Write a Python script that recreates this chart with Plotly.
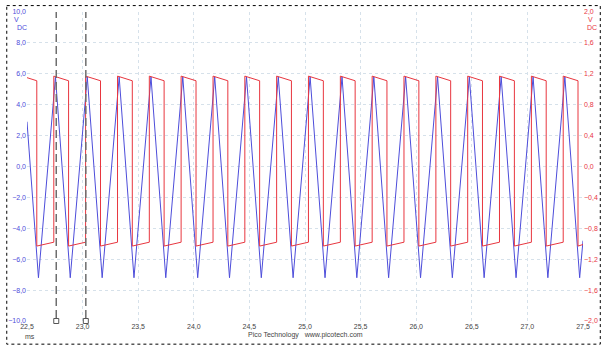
import plotly.graph_objects as go

# ---- data ----
peak_t = [22.756, 23.042, 23.329, 23.615, 23.901, 24.188, 24.474, 24.760, 25.046,
          25.333, 25.619, 25.905, 26.192, 26.478, 26.764, 27.051, 27.337]
trough_t = [22.603, 22.889, 23.176, 23.462, 23.748, 24.035, 24.321, 24.607, 24.893,
            25.180, 25.466, 25.752, 26.039, 26.325, 26.611, 26.898, 27.184, 27.470]
peak_v = [5.8, 5.8, 5.8, 5.8, 5.8, 5.8, 5.8, 5.8, 5.8, 5.8, 5.8, 5.8, 5.8, 5.8, 5.8, 5.8, 5.8]
trough_v = [-7.2, -7.2, -7.2, -7.2, -7.2, -7.2, -7.2, -7.2, -7.2, -7.2, -7.2, -7.2,
            -7.2, -7.2, -7.2, -7.2, -7.2, -7.2]
blue_start = (22.5, 2.9)
blue_end = (27.5, -4.8)

red_fall_t = [22.588, 22.874, 23.161, 23.447, 23.733, 24.020, 24.306, 24.592, 24.878,
              25.165, 25.451, 25.737, 26.024, 26.310, 26.596, 26.883, 27.169, 27.455]
red_rise_t = [22.741, 23.027, 23.314, 23.600, 23.886, 24.173, 24.459, 24.745, 25.031,
              25.318, 25.604, 25.890, 26.177, 26.463, 26.749, 27.036, 27.322]
red_high_start, red_high_end = 1.17, 1.11
red_low_start, red_low_end = -1.03, -0.98
red_start = (22.5, 1.15)
red_end = (27.5, -1.01)

cursor_t = [22.763, 23.029]

x_ticks = [22.5, 23.0, 23.5, 24.0, 24.5, 25.0, 25.5, 26.0, 26.5, 27.0, 27.5]
yl_ticks = [-10, -8, -6, -4, -2, 0, 2, 4, 6, 8, 10]
yr_ticks = [-2.0, -1.6, -1.2, -0.8, -0.4, 0.0, 0.4, 0.8, 1.2, 1.6, 2.0]

# ---- build series ----
bx, by = [blue_start[0]], [blue_start[1]]
for i in range(len(trough_t)):
    bx.append(trough_t[i]); by.append(trough_v[i])
    if i < len(peak_t):
        bx.append(peak_t[i]); by.append(peak_v[i])
bx.append(blue_end[0]); by.append(blue_end[1])

rx, ry = [red_start[0]], [red_start[1]]
for i in range(len(red_fall_t)):
    rx += [red_fall_t[i], red_fall_t[i]]
    ry += [red_high_end, red_low_start]
    if i < len(red_rise_t):
        rx += [red_rise_t[i], red_rise_t[i]]
        ry += [red_low_end, red_high_start]
rx.append(red_end[0]); ry.append(red_end[1])

BLUE = "#4d4dda"
RED = "#e8363f"
GRID = "#d6e1ea"
W, H = 606, 346
L, R, T, B = 22, 585, 8, 321.5
PW, PH = R - L, B - T

def px(x):
    return (x - L) / PW

def py(y):
    return 1 - (y - T) / PH

fig = go.Figure()
fig.add_trace(go.Scatter(x=rx, y=ry, mode="lines", yaxis="y2",
                         line=dict(color=RED, width=1), hoverinfo="skip"))
fig.add_trace(go.Scatter(x=bx, y=by, mode="lines",
                         line=dict(color=BLUE, width=1), hoverinfo="skip"))
fig.add_trace(go.Scatter(x=cursor_t, y=[-10] * len(cursor_t), mode="markers",
                         marker=dict(symbol="square", size=5, color="white",
                                     line=dict(color="#555555", width=1)),
                         cliponaxis=False, hoverinfo="skip"))

shapes = []
for c in cursor_t:
    shapes.append(dict(type="line", xref="x", yref="y", x0=c, x1=c, y0=-9.8, y1=10,
                       line=dict(color="#6e6e6e", width=1.5, dash="8px,4px"),
                       layer="above"))
shapes.append(dict(type="rect", xref="paper", yref="paper",
                   x0=px(1.5), x1=px(602.5), y0=py(1.5), y1=py(345),
                   line=dict(color="#000000", width=1, dash="dot")))

FONT = "Liberation Sans, Arial"

def ann(text, x, y, color, xanchor="center"):
    return dict(text=text, x=px(x), y=py(y), xref="paper", yref="paper",
                showarrow=False, xanchor=xanchor, yanchor="middle",
                font=dict(family=FONT, size=7, color=color))

annotations = [
    ann("Pico Technology   www.picotech.com", 304, 336, "#444444"),
    ann("ms", 25, 337, "#444444"),
    ann("V", 11, 16, BLUE),
    ann("DC", 16.5, 24, BLUE),
    ann("V", 588, 16, RED, "left"),
    ann("DC", 587.5, 24, RED, "left"),
]

fig.update_layout(
    width=W, height=H, autosize=False,
    margin=dict(l=L, r=W - R, t=T, b=H - B, pad=0),
    paper_bgcolor="white", plot_bgcolor="white",
    showlegend=False, separators=",.",
    shapes=shapes, annotations=annotations,
    xaxis=dict(range=[22.5, 27.5], tickvals=x_ticks, tickformat=".1f",
               showgrid=True, gridcolor=GRID, griddash="dot", gridwidth=1,
               zeroline=False, showline=False, ticks="",
               tickfont=dict(family=FONT, size=7, color="#444444")),
    yaxis=dict(range=[-10, 10], tickvals=yl_ticks, tickformat=".1f",
               showgrid=True, gridcolor=GRID, griddash="dot", gridwidth=1,
               zeroline=False, showline=False, ticks="",
               tickfont=dict(family=FONT, size=7, color=BLUE)),
    yaxis2=dict(range=[-2, 2], tickvals=yr_ticks, tickformat=".1f",
                overlaying="y", side="right", showgrid=False,
                zeroline=False, showline=False, ticks="",
                tickfont=dict(family=FONT, size=7, color=RED)),
)

fig.write_html("out.html")
